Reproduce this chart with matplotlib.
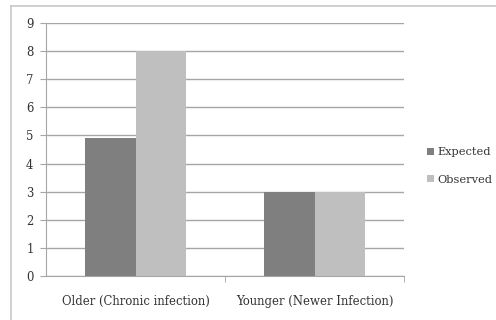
import matplotlib.pyplot as plt
import numpy as np
from matplotlib.lines import Line2D

categories = ["Older (Chronic infection)", "Younger (Newer Infection)"]
series_names = ["Expected", "Observed"]
expected = [4.9, 3.0]
observed = [8.0, 3.0]
colors = ["#7f7f7f", "#bfbfbf"]

W, H = 496, 320
fig = plt.figure(figsize=(W / 100, H / 100), dpi=100)
plt.rcParams["font.family"] = ["DejaVu Serif"]
txt = "#333333"

# outer chart border (left and top edges visible)
fig.add_artist(Line2D([11 / W, 11 / W], [0, 1 - 6 / H], color="#c8c8c8", lw=1.2,
                      transform=fig.transFigure))
fig.add_artist(Line2D([11 / W, 1], [1 - 6 / H, 1 - 6 / H], color="#c8c8c8", lw=1.2,
                      transform=fig.transFigure))

ax = fig.add_axes([46 / W, 1 - 276 / H, (404 - 46) / W, (276 - 23) / H])
x = np.arange(len(categories))
bw = 0.282
ax.bar(x - bw / 2, expected, bw, color=colors[0], label=series_names[0], zorder=3)
ax.bar(x + bw / 2, observed, bw, color=colors[1], label=series_names[1], zorder=3)

ax.set_xlim(-0.5, 1.5)
ax.set_ylim(0, 9)
ax.set_yticks(range(10))
ax.yaxis.grid(True, color="#a6a6a6", lw=1.0, zorder=0)
ax.set_xticks(x)
ax.set_xticklabels(categories)
ax.set_xticks([0.5, 1.5], minor=True)
ax.tick_params(axis="x", which="major", length=0, pad=14, labelsize=8.4, colors=txt)
ax.tick_params(axis="x", which="minor", length=4, color="#a6a6a6", direction="out")
ax.tick_params(axis="y", length=4, color="#a6a6a6", labelsize=8.4, labelcolor=txt, pad=5)
for s in ["top", "right"]:
    ax.spines[s].set_visible(False)
ax.spines["left"].set_color("#a6a6a6")
ax.spines["bottom"].set_color("#a6a6a6")

leg = fig.legend(loc="center left", bbox_to_anchor=(425 / W, 1 - 166 / H), frameon=False,
                 fontsize=8.2, handlelength=0.6, handleheight=0.6, handletextpad=0.25,
                 labelspacing=1.5, borderaxespad=0, borderpad=0.2)
for t in leg.get_texts():
    t.set_color(txt)

fig.savefig("out.png", dpi=100)
